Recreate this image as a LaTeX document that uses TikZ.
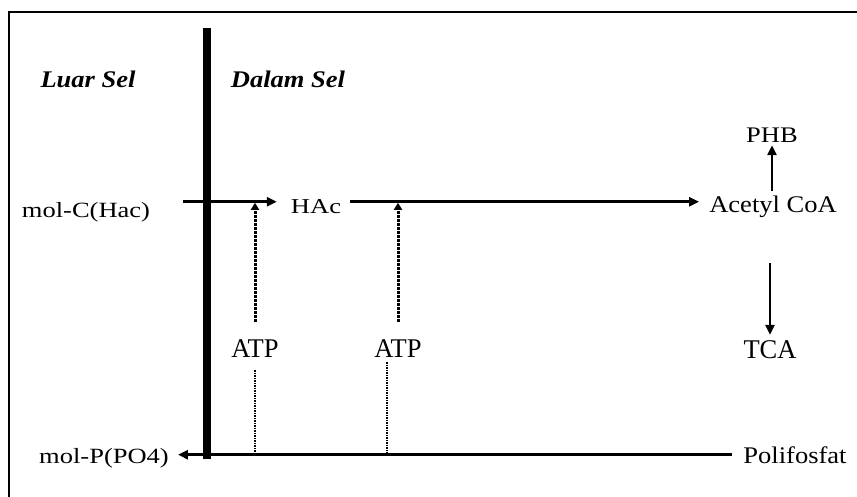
\documentclass[tikz,border=0pt]{standalone}
\usepackage{fontspec}
\setmainfont{Liberation Serif}
\usetikzlibrary{arrows.meta}

\begin{document}
\begin{tikzpicture}[x=1pt, y=-1pt, >={Triangle[length=10pt,width=9pt]},
    lbl/.style={anchor=base, inner sep=0pt, transform shape, yscale=#1,
        font=\fontsize{26.5}{30}\selectfont},
    lbl/.default=1,
    judul/.style={lbl=0.9, font=\fontsize{26.5}{30}\selectfont\bfseries\itshape},
    alir/.style={->, line width=2.8pt},
    atpalir/.style={->, line width=3pt, dash pattern=on 2.5pt off 1.5pt,
        >={Triangle[length=7pt,width=8pt]}},
    tipis/.style={line width=1.4pt, dash pattern=on 1.5pt off 1pt}]

    \useasboundingbox (0,0) rectangle (857,496);

    % bingkai
    \draw[line width=2.2pt] (9,500) -- (9,12) -- (862,12);

    % 1. membran sel
    \draw[line width=7.5pt] (207,28) -- (207,459);
    \node[judul] (luar) at (88,87) {Luar Sel};
    \node[judul] (dalam) at (288,87) {Dalam Sel};

    % 2. senyawa
    \node[lbl=0.82] (molC) at (86,217) {mol-C(Hac)};
    \node[lbl=0.8] (hac) at (316,213) {HAc};
    \node[lbl=0.9] (acetyl) at (773,212) {Acetyl CoA};
    \node[lbl=0.84] (phb) at (772,142) {PHB};
    \node[lbl=1.02] (tca) at (770,358) {TCA};
    \node[lbl=1.02] (atp1) at (255,357) {ATP};
    \node[lbl=1.02] (atp2) at (398,357) {ATP};
    \node[lbl=0.82] (molP) at (104,463) {mol-P(PO4)};
    \node[lbl=0.9] (poli) at (795,463) {Polifosfat};

    % 3. jalur karbon
    \draw[alir, shorten <=33pt, shorten >=14pt] (molC.north east) -- (molC.north east -| hac.west);
    \draw[alir, shorten <=9pt, shorten >=10pt] (molC.north -| hac.east) -- (molC.north -| acetyl.west);
    \draw[alir, shorten <=4pt, shorten >=3pt] (acetyl.north -| phb.south) -- (phb.south);
    \draw[alir, shorten <=46pt, shorten >=5pt] (acetyl.south -| tca.north) -- (tca.north);

    % 4. energi ATP
    \foreach \a in {atp1, atp2} {
        \draw[atpalir, shorten <=17pt, shorten >=1pt] (\a.north) -- (\a.north |- molC.north);
    }

    % 5. jalur fosfat
    \draw[alir, shorten <=11pt, shorten >=9pt] (poli.west) -- (poli.west -| molP.east);
    \draw[tipis, shorten <=13pt] (atp1.south) -- (atp1.south |- poli.west);
    \draw[tipis, shorten <=5pt] ([xshift=-11pt]atp2.south) -- ([xshift=-11pt]atp2.south |- poli.west);
\end{tikzpicture}
\end{document}
